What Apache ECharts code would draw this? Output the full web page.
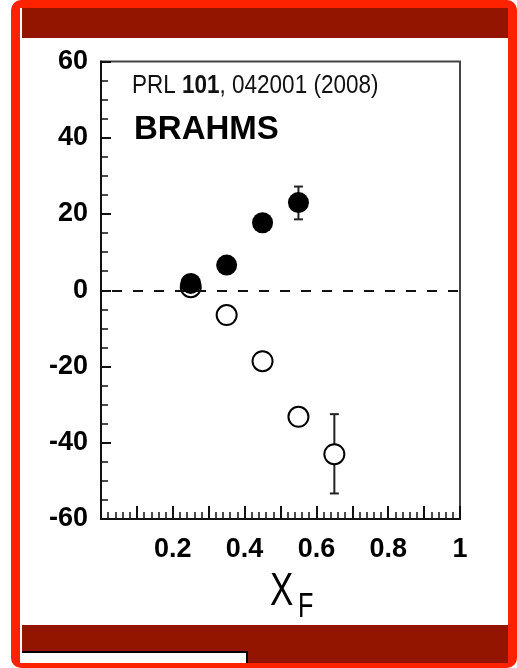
<!DOCTYPE html>
<html>
<head>
<meta charset="utf-8">
<script src="https://cdn.jsdelivr.net/npm/echarts@6/dist/echarts.min.js"></script>
<style>
html,body{margin:0;padding:0;background:#fff;}
#chart{width:517px;height:668px;}
</style>
</head>
<body>
<div id="chart"></div>
<script>
// ---- data ----
const filledX = [0.25, 0.35, 0.45, 0.55];
const filledY = [1.8, 6.6, 17.7, 23.0];
const openX = [0.25, 0.35, 0.45, 0.55, 0.65];
const openY = [0.8, -6.5, -18.6, -33.2, -43.0];
// error bars: [x, low, high]
const errX = [0.55, 0.65];
const errLow = [18.6, -53.3];
const errHigh = [27.2, -32.5];
const xTickValues = [0.2, 0.4, 0.6, 0.8, 1.0];
const xTickLabels = ['0.2', '0.4', '0.6', '0.8', '1'];
const yTickLabels = ['-60', '-40', '-20', '0', '20', '40', '60'];

const FONT = '"Liberation Sans", Arial, sans-serif';
const chart = echarts.init(document.getElementById('chart'), null, {renderer: 'canvas'});

const filledData = filledX.map((x, i) => [x, filledY[i]]);
const openData = openX.map((x, i) => [x, openY[i]]);
const errData = errX.map((x, i) => [x, errLow[i], errHigh[i]]);

const option = {
  backgroundColor: 'transparent',
  animation: false,
  graphic: [
    {type: 'rect', z: -10, shape: {x: 11, y: 0, width: 506, height: 668, r: 10}, style: {fill: '#ff2200'}},
    {type: 'rect', z: -9, shape: {x: 20, y: 8, width: 488, height: 655}, style: {fill: '#ffffff'}},
    {type: 'rect', z: -8, shape: {x: 22, y: 8, width: 486, height: 30}, style: {fill: '#931500'}},
    {type: 'rect', z: -8, shape: {x: 22, y: 625, width: 486, height: 38}, style: {fill: '#931500'}},
    {type: 'rect', z: -7, shape: {x: 22, y: 651, width: 226, height: 12}, style: {fill: '#000000'}},
    {type: 'rect', z: -6, shape: {x: 20, y: 653, width: 226, height: 10}, style: {fill: '#ffffff'}},
    {type: 'text', z: 10, x: 132, y: 86, scaleX: 0.9,
      style: {text: 'PRL {b|101}, 042001 (2008)', font: '25px ' + FONT, fill: '#111',
        verticalAlign: 'middle',
        rich: {b: {fontWeight: 'bold', fontSize: 25, fontFamily: FONT, fill: '#111'}}}},
    {type: 'text', z: 10, x: 134, y: 130,
      style: {text: 'BRAHMS', font: 'bold 33px ' + FONT, fill: '#000', verticalAlign: 'middle'}},
    {type: 'text', z: 10, x: 270, y: 592, scaleX: 0.76,
      style: {text: 'X', font: '46px ' + FONT, fill: '#000', verticalAlign: 'middle'}},
    {type: 'text', z: 10, x: 298, y: 607, scaleX: 0.72,
      style: {text: 'F', font: '35px ' + FONT, fill: '#000', verticalAlign: 'middle'}}
  ],
  grid: {
    left: 101, top: 61.5, right: 57, bottom: 149,
    show: true, borderColor: '#444', borderWidth: 2, backgroundColor: 'transparent'
  },
  xAxis: {
    type: 'value', min: 0, max: 1, interval: 0.1,
    axisLine: {show: true, onZero: false, lineStyle: {color: '#111', width: 2}},
    axisTick: {show: true, inside: true, length: 13, lineStyle: {color: '#111', width: 2}},
    minorTick: {show: true, splitNumber: 5, length: 7, lineStyle: {color: '#111', width: 1.5}},
    splitLine: {show: false},
    axisLabel: {
      margin: 17, color: '#000', fontSize: 27, fontWeight: 'bold', fontFamily: FONT,
      formatter: function (v) {
        for (let i = 0; i < xTickValues.length; i++) {
          if (Math.abs(v - xTickValues[i]) < 1e-6) return xTickLabels[i];
        }
        return '';
      }
    }
  },
  yAxis: {
    type: 'value', min: -60, max: 60, interval: 20,
    axisLine: {show: true, onZero: false, lineStyle: {color: '#111', width: 2}},
    axisTick: {show: true, inside: true, length: 10, lineStyle: {color: '#111', width: 2}},
    minorTick: {show: true, splitNumber: 4, length: 7, lineStyle: {color: '#111', width: 1.5}},
    splitLine: {show: false},
    axisLabel: {
      margin: 13, color: '#000', fontSize: 27, fontWeight: 'bold', fontFamily: FONT,
      formatter: function (v) {
        const idx = Math.round((v + 60) / 20);
        return yTickLabels[idx];
      }
    }
  },
  series: [
    {
      type: 'custom', z: 3,
      data: errData,
      renderItem: function (params, api) {
        const x = api.value(0);
        const lo = api.coord([x, api.value(1)]);
        const hi = api.coord([x, api.value(2)]);
        const cap = 4.5;
        const st = {stroke: '#222', lineWidth: 2};
        return {
          type: 'group',
          children: [
            {type: 'line', shape: {x1: lo[0], y1: lo[1], x2: hi[0], y2: hi[1]}, style: st},
            {type: 'line', shape: {x1: lo[0] - cap, y1: lo[1], x2: lo[0] + cap, y2: lo[1]}, style: st},
            {type: 'line', shape: {x1: hi[0] - cap, y1: hi[1], x2: hi[0] + cap, y2: hi[1]}, style: st}
          ]
        };
      }
    },
    {
      type: 'scatter', z: 4,
      data: openData,
      symbol: 'circle', symbolSize: 20,
      itemStyle: {color: '#fff', borderColor: '#000', borderWidth: 2, opacity: 1},
      markLine: {
        silent: true, symbol: 'none', label: {show: false},
        lineStyle: {type: [10, 11], dashOffset: 10, color: '#111', width: 2},
        data: [{yAxis: 0}]
      }
    },
    {
      type: 'scatter', z: 5,
      data: filledData,
      symbol: 'circle', symbolSize: 21,
      itemStyle: {color: '#000', opacity: 1}
    }
  ]
};
chart.setOption(option);
</script>
</body>
</html>
